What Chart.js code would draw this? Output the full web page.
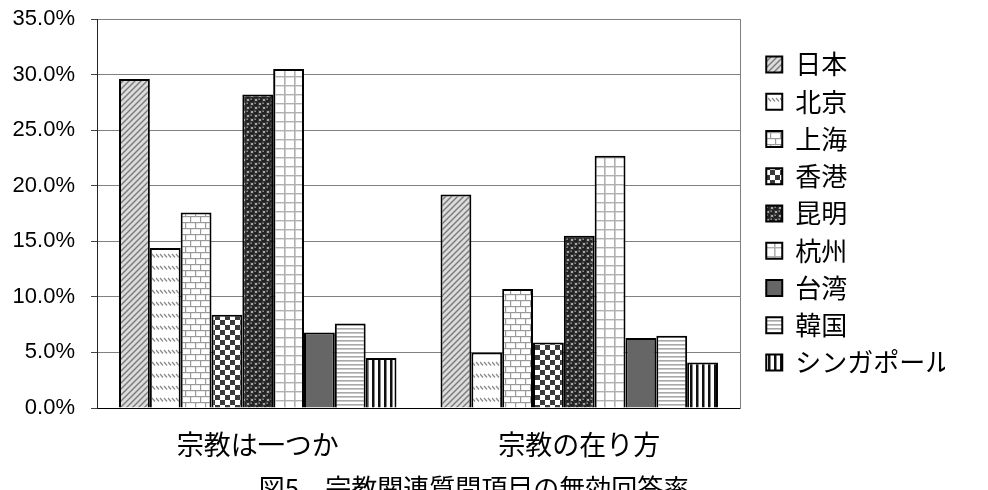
<!DOCTYPE html>
<html><head><meta charset="utf-8">
<script src="https://cdn.jsdelivr.net/npm/chart.js@4"></script>
<style>html,body{margin:0;padding:0;background:#fff;overflow:hidden}#wrap{width:988px;height:490px}</style>
</head><body><div id="wrap"><canvas id="c" width="988" height="490"></canvas></div>
<script>
const categories = ['宗教は一つか', '宗教の在り方'];
const seriesNames = ['日本', '北京', '上海', '香港', '昆明', '杭州', '台湾', '韓国', 'シンガポール'];
const japan     = [29.6, 19.2];
const beijing   = [14.4, 5.0];
const shanghai  = [17.6, 10.7];
const hongkong  = [8.4, 5.9];
const kunming   = [28.2, 15.5];
const hangzhou  = [30.5, 22.7];
const taiwan    = [6.8, 6.3];
const korea     = [7.6, 6.5];
const singapore = [4.5, 4.1];
const yTicks = [0, 5, 10, 15, 20, 25, 30, 35];
const caption = '図5　宗教関連質問項目の無効回答率';

function pat(w, h, draw) {
  const c = document.createElement('canvas'); c.width = w; c.height = h;
  const g = c.getContext('2d'); draw(g, w, h);
  return g.createPattern(c, 'repeat');
}
const fills = [
  pat(6, 6, g => { g.fillStyle = '#dcdcdc'; g.fillRect(0,0,6,6); g.strokeStyle = '#7a7a7a'; g.lineWidth = 1.4;
    [[-3,3,3,-3],[0,6,6,0],[3,9,9,3]].forEach(l => { g.beginPath(); g.moveTo(l[0],l[1]); g.lineTo(l[2],l[3]); g.stroke(); }); }),
  pat(12, 12, g => { g.fillStyle = '#fff'; g.fillRect(0,0,12,12); g.strokeStyle = '#8a8a8a'; g.lineWidth = 1.2;
    [0,4,8].forEach(x => { g.beginPath(); g.moveTo(x,2); g.lineTo(x+3,5.5); g.stroke(); }); }),
  pat(10, 12, g => { g.fillStyle = '#fff'; g.fillRect(0,0,10,12); g.fillStyle = '#9a9a9a';
    g.fillRect(0,0,10,1.2); g.fillRect(0,6,10,1.2); g.fillRect(0,0,1.2,6); g.fillRect(5,6,1.2,6); }),
  pat(10, 10, g => { g.fillStyle = '#fff'; g.fillRect(0,0,10,10); g.fillStyle = '#3a3a3a'; g.fillRect(0,0,5,5); g.fillRect(5,5,5,5); }),
  pat(8, 8, g => { g.fillStyle = '#a8a8a8'; g.fillRect(0,0,8,8);
    [[0,0],[8,0],[0,8],[8,8],[4,4]].forEach(p => { g.fillStyle = '#222'; g.beginPath(); g.arc(p[0],p[1],2.9,0,Math.PI*2); g.fill();
      g.fillStyle = '#8a8a8a'; g.beginPath(); g.arc(p[0]-0.8,p[1]-0.8,0.9,0,Math.PI*2); g.fill(); }); }),
  pat(10, 9, g => { g.fillStyle = '#fff'; g.fillRect(0,0,10,9); g.fillStyle = '#b0b0b0'; g.fillRect(4,0,1.6,9); g.fillRect(0,4,10,1.4); }),
  '#666666',
  pat(4, 4, g => { g.fillStyle = '#fff'; g.fillRect(0,0,4,4); g.fillStyle = '#a8a8a8'; g.fillRect(0,0,4,1.6); }),
  pat(6, 6, g => { g.fillStyle = '#fff'; g.fillRect(0,0,6,6); g.fillStyle = '#111'; g.fillRect(0,0,2.5,6); })
];
const values = [japan, beijing, shanghai, hongkong, kunming, hangzhou, taiwan, korea, singapore];

const captionPlugin = {
  id: 'caption',
  afterDraw(chart) {
    const ctx = chart.ctx; ctx.save();
    ctx.font = '26px "Noto Sans CJK JP"'; ctx.fillStyle = '#000';
    ctx.textAlign = 'center'; ctx.textBaseline = 'middle';
    ctx.fillText(caption, 474, 488);
    ctx.restore();
  }
};

new Chart(document.getElementById('c'), {
  type: 'bar',
  data: {
    labels: categories,
    datasets: seriesNames.map((n, i) => ({
      label: n, data: values[i], backgroundColor: fills[i],
      borderColor: '#000', borderWidth: 2,
      categoryPercentage: 0.863, barPercentage: 1.0
    }))
  },
  options: {
    responsive: false, animation: false,
    layout: { padding: { top: 19, left: 0, right: 43, bottom: 30 } },
    plugins: {
      legend: {
        position: 'right', fullSize: false, maxWidth: 190,
        labels: { boxWidth: 16, boxHeight: 16, padding: 11.25, color: '#000',
          font: { family: '"Noto Sans CJK JP"', size: 26 } }
      },
      tooltip: { enabled: false },
      caption: {}
    },
    scales: {
      x: {
        grid: { drawOnChartArea: false, drawTicks: false },
        border: { color: '#000', width: 1 },
        ticks: { color: '#000', padding: 21, font: { family: '"Noto Sans CJK JP"', size: 27 } },
        afterFit(s) { s.height = 52; }
      },
      y: {
        min: 0, max: 35,
        afterBuildTicks(s) { s.ticks = yTicks.map(v => ({ value: v })); },
        grid: { color: '#808080', lineWidth: 1, tickLength: 6, tickColor: '#444' },
        border: { color: '#222', width: 1 },
        ticks: { color: '#000', padding: 16, font: { family: '"Liberation Sans"', size: 22, lineHeight: 0.1 },
          callback: v => v.toFixed(1) + '%' },
        afterFit(s) { s.width = 97; }
      },
      y2: {
        position: 'right', display: true,
        grid: { drawOnChartArea: false, drawTicks: false },
        border: { color: '#808080', width: 1 },
        ticks: { display: false },
        afterFit(s) { s.width = 15; }
      }
    }
  },
  plugins: [captionPlugin]
});
</script></body></html>
